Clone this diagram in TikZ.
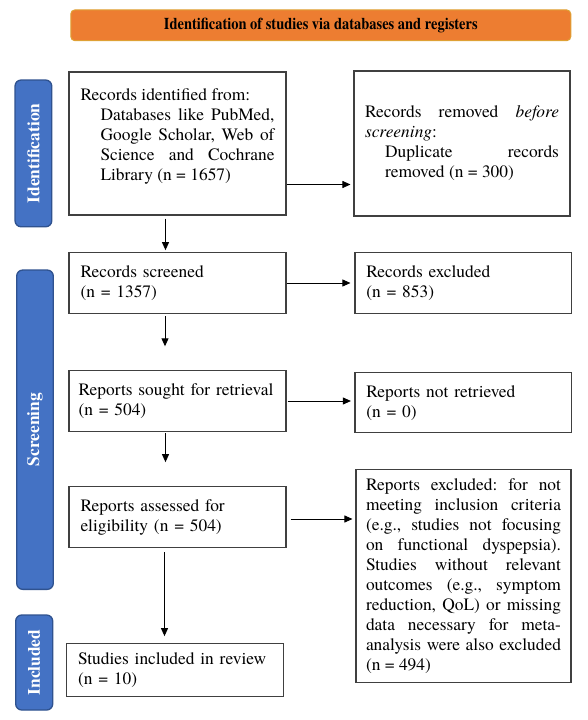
\documentclass[tikz,border=0pt]{standalone}
\usepackage{fontspec}
\IfFontExistsTF{texgyretermes-regular.otf}
  {\setmainfont{texgyretermes}[Extension=.otf, UprightFont=*-regular, BoldFont=*-bold,
     ItalicFont=*-italic, BoldItalicFont=*-bolditalic]
   \newfontfamily\bannerfont{texgyretermes}[Extension=.otf, UprightFont=*-regular,
     BoldFont=*-bold, FakeStretch=0.875]}
  {\setmainfont{Liberation Serif}
   \newfontfamily\bannerfont{Liberation Serif}[FakeStretch=0.875]}
\usetikzlibrary{arrows.meta,calc}
\definecolor{barblue}{HTML}{4472C4}
\definecolor{barline}{HTML}{2F528F}
\definecolor{bannerfill}{HTML}{ED7D31}
\definecolor{bannerline}{HTML}{DFA134}
\definecolor{boxline}{HTML}{404040}
\begin{document}
\begin{tikzpicture}[x=1pt,y=-1pt,
  font=\rmfamily\fontsize{17.4}{20}\selectfont\frenchspacing,
  box/.style={draw=boxline, line width=1.1pt, minimum width=217pt, inner sep=0pt,
    text width=194pt, align=left, execute at begin node={\parindent=0pt\hyphenpenalty=10000}},
  jbox/.style={box, align=justify},
  bar/.style={draw=barline, fill=barblue, line width=1.3pt, rounded corners=6pt,
    rotate=90, inner sep=0pt, text=white, font=\rmfamily\fontsize{17.4}{20}\selectfont\bfseries},
  arr/.style={-{Triangle[length=8pt,width=7pt]}, line width=0.9pt, black}]
\useasboundingbox (0,0) rectangle (587,720);

% banner
\node[draw=bannerline, fill=bannerfill, line width=1pt, rounded corners=4pt,
  minimum width=500pt, minimum height=30.7pt, inner sep=0pt,
  font=\bannerfont\fontsize{16.5}{18}\selectfont\bfseries] (banner) at (320.8,25.3)
  {Identification of studies via databases and registers};

% side bars
\node[bar, minimum width=146.7pt, minimum height=36.7pt] (idbar) at (33.4,153.4) {Identification};
\node[bar, minimum width=319.3pt, minimum height=36.6pt] (scrbar) at (35,429.7) {Screening};
\node[bar, minimum width=95pt, minimum height=37pt] (incbar) at (34.2,662.5) {Included};

% boxes
\node[jbox, minimum height=143pt] (b1) at (177.5,143.5)
  {Records identified from:\par{\leftskip=20pt Databases like PubMed,\linebreak Google Scholar, Web of\linebreak Science and Cochrane\linebreak Library (n = 1657)\rule[-18pt]{0pt}{1pt}\par}};
\node[jbox, minimum width=216pt, minimum height=145pt] (b2) at (462,143.5)
  {Records removed \textit{before}\linebreak\textit{screening}:\par{\leftskip=20pt Duplicate records\linebreak removed (n = 300)\par}};
\node[box, minimum height=60.6pt] (b3) at (177.5,283) {Records screened\\(n = 1357)};
\node[box, minimum width=216.7pt, minimum height=60.6pt] (b4) at (463.3,283) {Records excluded\\(n = 853)};
\node[box, minimum height=60.3pt, text width=198pt] (b5) at (177.5,401) {Reports sought for retrieval\\(n = 504)};
\node[box, minimum width=216.7pt, minimum height=60pt] (b6) at (463.3,402.7) {Reports not retrieved\\(n = 0)};
\node[box, minimum height=60.6pt] (b7) at (177.5,517) {Reports assessed for\\eligibility (n = 504)};
\node[jbox, minimum width=215pt, minimum height=213pt, text width=195pt] (b8) at (463.5,575.8)
  {Reports excluded: for not\linebreak meeting inclusion criteria\linebreak (e.g., studies not focusing\linebreak on functional dyspepsia).\linebreak Studies without relevant\linebreak outcomes (e.g., symptom\linebreak reduction, QoL) or missing\linebreak data necessary for meta-\linebreak analysis were also excluded\linebreak (n = 494)};
\node[box, minimum width=216.6pt, minimum height=53.4pt] (b9) at (175,670) {Studies included in review\\(n = 10)};

% horizontal arrows
\draw[arr, shorten >=3pt] ($(b1.east)+(0,41)$) -- ($(b2.west)+(0,41)$);
\draw[arr, shorten >=4pt] (b3.east) -- (b3.east -| b4.west);
\draw[arr, shorten <=1pt, shorten >=3.5pt] (b5.east) -- (b5.east -| b6.west);
\draw[arr, shorten <=4pt, shorten >=3pt] ($(b7.east)+(0,2)$) coordinate (a4s) -- (a4s -| b8.west);

% vertical arrows
\draw[arr, shorten <=3pt, shorten >=2pt] ($(b1.south)+(-12,0)$) -- ($(b3.north)+(-12,0)$);
\draw[arr, shorten <=2.5pt, shorten >=24pt] ($(b3.south)+(-12.5,0)$) -- ($(b5.north)+(-12.5,0)$);
\draw[arr, shorten <=1.7pt, shorten >=24pt] ($(b5.south)+(-12,0)$) -- ($(b7.north)+(-12,0)$);
\draw[arr, shorten <=4.4pt, shorten >=6.6pt] ($(b7.south)+(-13,0)$) coordinate (v4s) -- (v4s |- b9.north);
\end{tikzpicture}
\end{document}
